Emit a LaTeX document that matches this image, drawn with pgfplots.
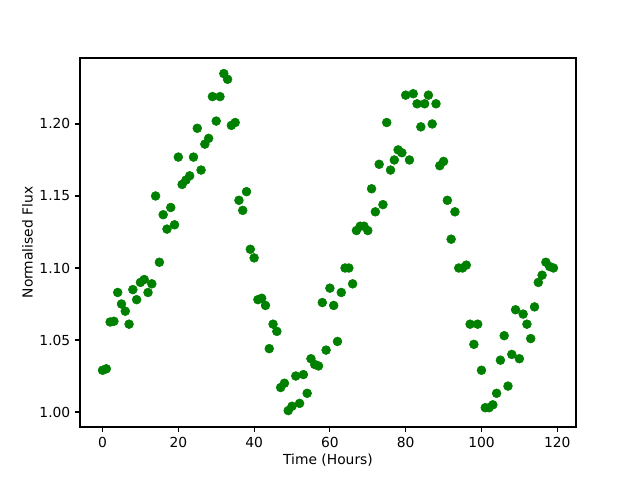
\documentclass[border=0pt]{standalone}
\usepackage{pgfplots}
\pgfplotsset{compat=1.18}
\usepackage{fontspec}
\setmainfont{DejaVu Sans}
\definecolor{mplgreen}{HTML}{008000}
\begin{document}
\fontsize{10}{12}\selectfont
\begin{tikzpicture}
\begin{axis}[
  at={(0,0)}, anchor=south west,
  scale only axis, width=4.96in, height=3.69in,
  xmin=-5.95, xmax=124.95, ymin=0.9896, ymax=1.2458,
  xtick={0,20,40,60,80,100,120},
  ytick={1.00,1.05,1.10,1.15,1.20},
  yticklabel style={/pgf/number format/.cd,fixed,fixed zerofill,precision=2},
  /pgf/number format/assume math mode=true,
  tick align=outside, tick pos=left,
  major tick length=3.5pt,
  every tick/.style={black, line width=0.8pt},
  axis line style={line width=0.8pt},
  ticklabel style={font=\fontsize{10}{12}\selectfont},
  xlabel={Time (Hours)}, ylabel={Normalised Flux},
  label style={font=\fontsize{10}{12}\selectfont},
  xlabel style={yshift=2pt},
  ylabel style={yshift=-2pt},
]
\addplot[color=mplgreen, only marks, mark=*, mark size=3.2pt, mark options={solid, fill=mplgreen, draw=mplgreen, line width=0.4pt}] coordinates {
(0,1.029) (1,1.030) (2,1.0625) (3,1.063) (4,1.083) (5,1.075) (6,1.070) (7,1.061) (8,1.085) (9,1.078)
(10,1.090) (11,1.092) (12,1.083) (13,1.089) (14,1.150) (15,1.104) (16,1.137) (17,1.127) (18,1.142) (19,1.130)
(20,1.177) (21,1.158) (22,1.161) (23,1.164) (24,1.177) (25,1.197) (26,1.168) (27,1.186) (28,1.190) (29,1.219)
(30,1.202) (31,1.219) (32,1.235) (33,1.231) (34,1.199) (35,1.201) (36,1.147) (37,1.140) (38,1.153) (39,1.113)
(40,1.107) (41,1.078) (42,1.079) (43,1.074) (44,1.044) (45,1.061) (46,1.056) (47,1.017) (48,1.020) (49,1.001)
(50,1.004) (51,1.025) (52,1.006) (53,1.026) (54,1.013) (55,1.037) (56,1.033) (57,1.032) (58,1.076) (59,1.043)
(60,1.086) (61,1.074) (62,1.049) (63,1.083) (64,1.100) (65,1.100) (66,1.089) (67,1.126) (68,1.129) (69,1.129)
(70,1.126) (71,1.155) (72,1.139) (73,1.172) (74,1.144) (75,1.201) (76,1.168) (77,1.175) (78,1.182) (79,1.180)
(80,1.220) (81,1.175) (82,1.221) (83,1.214) (84,1.198) (85,1.214) (86,1.220) (87,1.200) (88,1.214) (89,1.171)
(90,1.174) (91,1.147) (92,1.120) (93,1.139) (94,1.100) (95,1.100) (96,1.102) (97,1.061) (98,1.047) (99,1.061)
(100,1.029) (101,1.003) (102,1.003) (103,1.005) (104,1.013) (105,1.036) (106,1.053) (107,1.018) (108,1.040) (109,1.071)
(110,1.037) (111,1.068) (112,1.061) (113,1.051) (114,1.073) (115,1.090) (116,1.095) (117,1.104) (118,1.101) (119,1.100)
};
\end{axis}
\path (-0.80in,-0.53in) rectangle (5.60in,4.27in);
\end{tikzpicture}
\end{document}
